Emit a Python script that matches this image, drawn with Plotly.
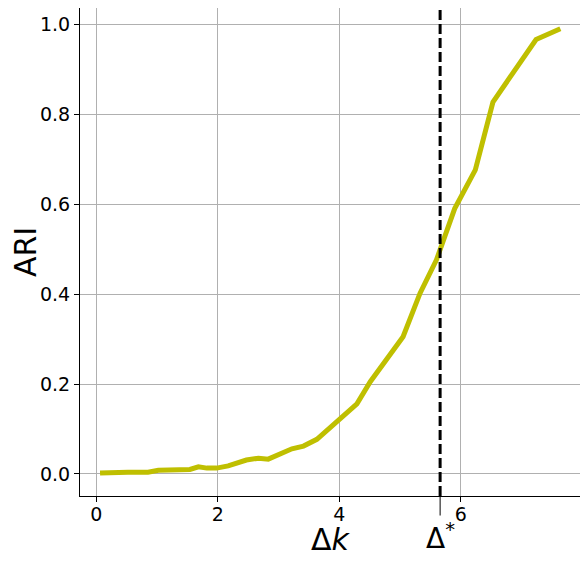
import plotly.graph_objects as go

# values
delta_k = [0.06, 0.22, 0.39, 0.52, 0.85, 1.02, 1.54, 1.68, 1.82, 1.98, 2.17, 2.47,
           2.67, 2.83, 3.22, 3.41, 3.63, 3.98, 4.29, 4.51, 5.05, 5.33, 5.60, 5.90,
           6.24, 6.53, 6.87, 7.24, 7.64]
ari = [0.002, 0.003, 0.002, 0.004, 0.004, 0.008, 0.010, 0.016, 0.013, 0.013, 0.018, 0.031,
       0.035, 0.033, 0.056, 0.062, 0.077, 0.118, 0.156, 0.205, 0.305, 0.402, 0.476, 0.590,
       0.676, 0.827, 0.894, 0.966, 0.990]
delta_star = 5.66
x_ticks = [0, 2, 4, 6]
y_ticks = [0.0, 0.2, 0.4, 0.6, 0.8, 1.0]

font = "DejaVu Sans"

fig = go.Figure()
fig.add_trace(go.Scatter(
    x=delta_k, y=ari, mode="lines",
    line=dict(color="#bfbf00", width=5),
    showlegend=False,
))

# threshold line
fig.add_vline(x=delta_star, line=dict(color="black", width=3, dash="10px,4px"))
# long tick under the axis at the threshold
fig.add_shape(type="line", xref="x", yref="paper", x0=delta_star, x1=delta_star,
              y0=0, y1=-0.04, line=dict(color="black", width=1))
fig.add_annotation(x=delta_star, xref="x", y=-0.04, yref="paper",
                   text="Δ<sup>*</sup>", showarrow=False, yanchor="top",
                   font=dict(family=font, size=28, color="black"))
fig.add_annotation(x=0.5, xref="paper", y=-0.05, yref="paper",
                   text="Δ<i>k</i>", showarrow=False, yanchor="top",
                   font=dict(family=font, size=30, color="black"))

fig.update_xaxes(
    range=[-0.27, 7.98], tickvals=x_ticks, ticks="outside", ticklen=5,
    tickcolor="black", showgrid=True, gridcolor="#b0b0b0", gridwidth=1,
    showline=True, linecolor="black", linewidth=1, mirror=True, zeroline=False,
    tickfont=dict(family=font, size=19, color="black"), automargin=False,
    ticklabelstandoff=-4,
)
fig.update_yaxes(
    range=[-0.049, 1.036], tickvals=y_ticks, tickformat=".1f", ticks="outside",
    ticklen=5, tickcolor="black", showgrid=True, gridcolor="#b0b0b0", gridwidth=1,
    showline=True, linecolor="black", linewidth=1, mirror=True, zeroline=False,
    tickfont=dict(family=font, size=19, color="black"), automargin=False,
    title=dict(text="ARI", font=dict(family=font, size=30, color="black"), standoff=15),
)
# the page puts the figure 8px in from the top-left corner
fig.update_layout(
    width=580, height=554,
    margin=dict(l=72, r=7, t=0, b=66),
    plot_bgcolor="white", paper_bgcolor="white",
)

fig.write_html("out.html")
